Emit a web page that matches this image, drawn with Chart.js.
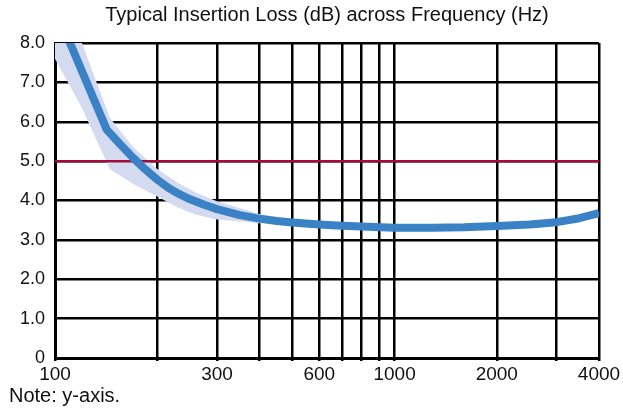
<!DOCTYPE html>
<html>
<head>
<meta charset="utf-8">
<script src="https://cdn.jsdelivr.net/npm/chart.js@4"></script>
<style>
  html, body { margin: 0; padding: 0; background: #fff; }
  #wrap { width: 623px; height: 410px; }
</style>
</head>
<body>
<div id="wrap"><canvas id="c" width="623" height="410"></canvas></div>
<script>
// ---- data ----
const titleText = 'Typical Insertion Loss (dB) across Frequency (Hz)';
const noteText = 'Note: y-axis.';

const freqs        = [100, 142, 155, 170, 185, 200, 215, 230, 250, 275, 300, 350, 400, 450, 500, 600, 700, 800, 1000, 1300, 1600, 2000, 2500, 3000, 3500, 4000];
const lossTypical  = [8.9, 5.8, 5.44, 5.08, 4.78, 4.53, 4.33, 4.18, 4.03, 3.89, 3.78, 3.63, 3.54, 3.48, 3.44, 3.39, 3.36, 3.34, 3.31, 3.31, 3.32, 3.35, 3.39, 3.45, 3.55, 3.68];

const bandFreqs    = [100, 120, 145, 170, 200, 230, 260, 300, 400, 500, 600];
const bandUpper    = [10.2, 8.0, 6.1, 5.35, 4.8, 4.45, 4.2, 3.98, 3.66, 3.5, 3.41];
const bandLower    = [7.6, 6.35, 4.8, 4.42, 4.1, 3.82, 3.64, 3.52, 3.42, 3.39, 3.37];

const limitFreqs   = [100, 4000];
const limitValues  = [5.0, 5.0];

const gridFreqs    = [100, 200, 300, 400, 500, 600, 700, 800, 900, 1000, 2000, 3000, 4000];
const labeledFreqs = [100, 300, 600, 1000, 2000, 4000];
const yMin = 0, yMax = 8, yStep = 1;

const pts = (xs, ys) => xs.map((x, i) => ({ x: x, y: ys[i] }));
const FONT = "'Liberation Sans', Arial, Helvetica, sans-serif";

new Chart(document.getElementById('c'), {
  type: 'line',
  data: {
    datasets: [
      {
        label: 'Typical',
        data: pts(freqs, lossTypical),
        borderColor: '#3a82c5',
        borderWidth: 8,
        pointRadius: 0,
        tension: 0,
        fill: false,
        clip: 0,
        borderJoinStyle: 'round',
        borderCapStyle: 'butt'
      },
      {
        label: 'Limit',
        data: pts(limitFreqs, limitValues),
        borderColor: '#a00c3c',
        borderWidth: 2.5,
        pointRadius: 0,
        fill: false
      },
      {
        label: 'Upper',
        data: pts(bandFreqs, bandUpper),
        borderWidth: 0,
        borderColor: 'rgba(0,0,0,0)',
        backgroundColor: 'rgb(212,219,240)',
        pointRadius: 0,
        tension: 0,
        fill: '+1'
      },
      {
        label: 'Lower',
        data: pts(bandFreqs, bandLower),
        borderWidth: 0,
        borderColor: 'rgba(0,0,0,0)',
        pointRadius: 0,
        tension: 0,
        fill: false
      }
    ]
  },
  options: {
    responsive: false,
    animation: false,
    events: [],
    layout: { padding: { left: 9, right: 24, top: 0, bottom: 0 } },
    plugins: {
      legend: { display: false },
      tooltip: { enabled: false },
      title: {
        display: true,
        fullSize: false,
        text: titleText,
        color: '#111',
        font: { family: FONT, size: 20, weight: 'normal', lineHeight: 1.2 },
        padding: { top: 3, bottom: 16 }
      },
      subtitle: {
        display: true,
        text: noteText,
        position: 'bottom',
        align: 'start',
        color: '#111',
        font: { family: FONT, size: 20, weight: 'normal', lineHeight: 1.2 },
        padding: { top: 0, bottom: 2 }
      }
    },
    scales: {
      x: {
        type: 'logarithmic',
        min: 100,
        max: 4000,
        afterBuildTicks: (scale) => { scale.ticks = gridFreqs.map(v => ({ value: v })); },
        afterFit: (scale) => { scale.height = 26; },
        ticks: {
          autoSkip: false,
          maxRotation: 0,
          minRotation: 0,
          padding: 2,
          color: '#111',
          font: { family: FONT, size: 19 },
          callback: (v) => labeledFreqs.includes(v) ? String(v) : ''
        },
        grid: { color: '#000', lineWidth: 2.5, tickLength: 3, drawTicks: true },
        border: { display: true, color: '#000', width: 3 }
      },
      y: {
        type: 'linear',
        min: yMin,
        max: yMax,
        afterFit: (scale) => { scale.width = 46; },
        ticks: {
          stepSize: yStep,
          padding: 10,
          color: '#111',
          font: { family: FONT, size: 18 },
          callback: (v) => v === 0 ? '0' : Number(v).toFixed(1)
        },
        grid: { color: '#000', lineWidth: 2.5, drawTicks: false },
        border: { display: true, color: '#000', width: 3 }
      }
    }
  }
});
</script>
</body>
</html>
